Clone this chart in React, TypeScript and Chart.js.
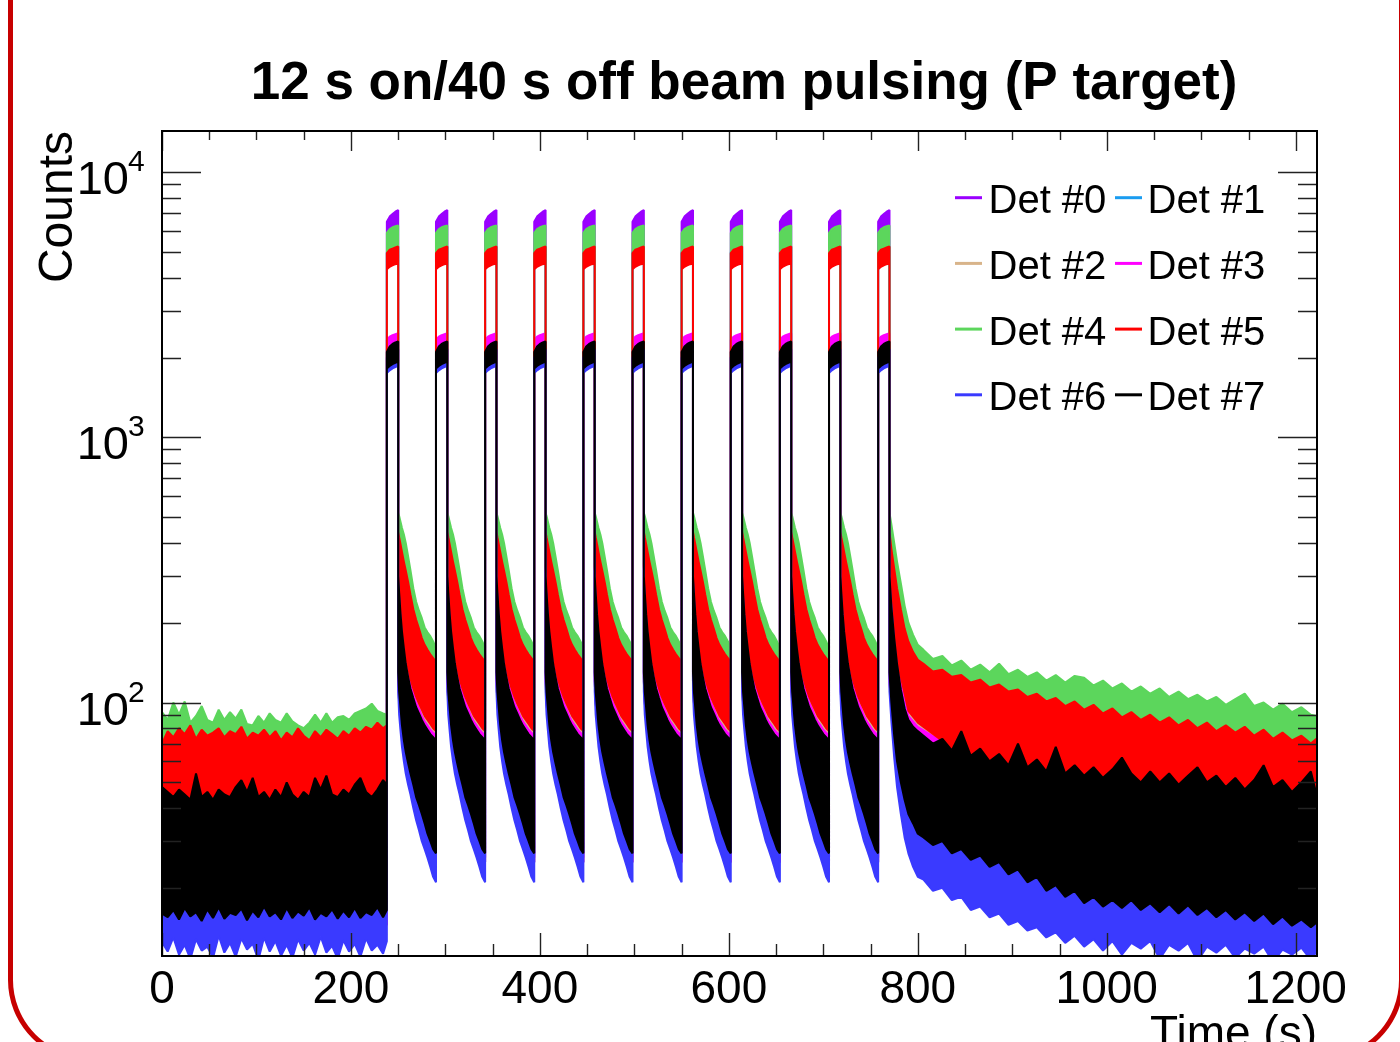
import React, { useEffect, useRef } from 'react';
import { Chart, registerables } from 'chart.js';

Chart.register(...registerables);

// ---------- labels / styling data ----------
const TITLE = '12 s on/40 s off beam pulsing (P target)';
const X_TITLE = 'Time (s)';
const Y_TITLE = 'Counts';
const DETECTORS = ['Det #0', 'Det #1', 'Det #2', 'Det #3', 'Det #4', 'Det #5', 'Det #6', 'Det #7'];
const COLORS = ['#9a00ff', '#1a9cf0', '#d8b48a', '#ff00ff', '#5cd65c', '#ff0000', '#3a3aff', '#000000'];
const X_TICK_LABELS = ['0', '200', '400', '600', '800', '1000', '1200'];
const Y_DECADES = [2, 3, 4];
const X_MIN = 0;
const X_MAX = 1222.5;
const Y_MIN = 11.07;
const Y_MAX = 14300;

// ---------- time grids (s) ----------
const PULSE_STARTS = [238, 290, 342, 394, 446, 498, 550, 602, 654, 706, 758];
const PULSE_LEN = 12;
const PULSE_DT = [0, 3, 6, 9, 12];
const GAP_DT = [0, 1, 2.5, 4, 6, 8, 10.5, 13, 16, 19, 22, 25, 28, 31, 34, 37, 40];
const BASE_T = [0, 6, 12, 18, 24, 30, 36, 42, 48, 54, 60, 66, 72, 78, 84, 90, 96, 102, 108, 114, 120, 126, 132, 138, 144, 150, 156, 162, 168, 174, 180, 186, 192, 198, 204, 210, 216, 222, 228, 234, 238];
const BASE_T_SHORT = [0, 120, 238];
const TAIL_T = [770, 772, 775, 778, 782, 786, 790, 795, 800, 806, 816, 826, 836, 846, 856, 866, 876, 886, 896, 906, 916, 926, 936, 946, 956, 966, 976, 986, 996, 1006, 1016, 1026, 1036, 1046, 1056, 1066, 1076, 1086, 1096, 1106, 1116, 1126, 1136, 1146, 1156, 1166, 1176, 1186, 1196, 1206, 1216, 1222];
const TAIL_T_SHORT = [770, 775, 780, 790, 800, 850, 950, 1100, 1222];

// ---------- counts: band edges (upper / lower) ----------
// beam-off baseline (0 - 238 s)
const G_HI_BASE = [92, 86, 100, 90, 101, 84, 89, 97, 86, 84, 94, 86, 92, 87, 94, 83, 82, 89, 84, 91, 86, 84, 91, 85, 82, 80, 84, 90, 84, 91, 84, 88, 89, 86, 91, 93, 95, 99, 93, 91, 90];
const R_HI_BASE = [70, 78, 74, 80, 76, 82, 73, 79, 75, 77, 80, 74, 78, 76, 81, 73, 77, 75, 79, 74, 78, 72, 77, 74, 80, 75, 72, 78, 74, 79, 76, 73, 78, 75, 80, 77, 81, 79, 84, 80, 82];
const K_HI_BASE = [48, 46, 44, 47, 45, 43, 54, 44, 46, 43, 47, 45, 44, 48, 51, 46, 52, 44, 46, 43, 47, 44, 50, 45, 43, 46, 44, 52, 47, 53, 45, 44, 47, 45, 49, 52, 46, 44, 47, 51, 49];
const K_LO_BASE = [16, 15.5, 16.5, 15.2, 16.8, 15.6, 16.2, 15, 16.6, 15.4, 16.9, 15.3, 16.1, 15.8, 16.7, 15.1, 16.4, 15.5, 17, 15.6, 16.2, 15.2, 16.8, 15.4, 16.3, 15.7, 16.9, 15.2, 16.1, 15.6, 16.6, 15.3, 16.4, 15.5, 16.8, 15.4, 16.2, 15.8, 16.9, 15.5, 16.5];
const B_LO_BASE = [12.5, 11.5, 13, 11.2, 12.2, 10.8, 12.8, 11.6, 12, 10.9, 13.2, 11.4, 12.4, 11, 12.9, 11.7, 12.3, 10.7, 13, 11.5, 12.6, 11.1, 12.2, 10.9, 12.8, 11.6, 12.4, 11.2, 13.1, 11.4, 12.1, 10.8, 12.7, 11.5, 12.3, 11, 12.9, 11.6, 12.2, 11.3, 12.6];

const BASE_HI = [
  [40, 41, 41],
  [40, 41, 41],
  [39, 40, 40],
  [38, 39, 39],
  G_HI_BASE,
  R_HI_BASE,
  [38, 38, 38],
  K_HI_BASE,
];
const BASE_LO = [
  [16, 16, 16],
  [16, 16, 16],
  [16, 16, 16],
  [14.5, 14.5, 14.5],
  [45, 45, 45],
  [38, 38, 38],
  B_LO_BASE,
  K_LO_BASE,
];

// beam-on plateau (12 s)
const PULSE_HI = [
  [6500, 6800, 6950, 7100, 7200],
  [5000, 5100, 5150, 5200, 5250],
  [2150, 2200, 2230, 2260, 2280],
  [2330, 2400, 2430, 2450, 2470],
  [5900, 6100, 6200, 6250, 6300],
  [4950, 5100, 5150, 5200, 5250],
  [2000, 2050, 2100, 2120, 2150],
  [2100, 2200, 2250, 2280, 2300],
];
const PULSE_LO = [
  [5600, 5700, 5800, 5900, 6000],
  [4500, 4600, 4650, 4700, 4700],
  [1900, 1930, 1950, 1970, 1980],
  [2000, 2050, 2080, 2100, 2120],
  [4900, 5000, 5050, 5100, 5100],
  [4300, 4400, 4450, 4500, 4520],
  [1750, 1790, 1820, 1840, 1860],
  [1820, 1860, 1890, 1910, 1930],
];

// decay between pulses (40 s)
const GAP_HI = [
  [285, 247, 204, 176, 152, 133, 119, 107, 99, 91, 86, 82, 78, 75, 72, 70, 68],
  [330, 286, 237, 204, 176, 154, 138, 124, 114, 106, 100, 95, 90, 87, 84, 81, 79],
  [321, 278, 230, 198, 171, 150, 134, 121, 111, 103, 97, 92, 88, 85, 81, 79, 77],
  [312, 270, 224, 192, 166, 146, 130, 118, 108, 100, 95, 89, 85, 82, 79, 77, 75],
  [520, 505, 480, 455, 430, 400, 356, 315, 270, 240, 222, 208, 192, 184, 178, 170, 160],
  [440, 420, 395, 370, 340, 315, 285, 255, 225, 205, 190, 175, 165, 158, 152, 147, 142],
  [288, 250, 206, 178, 154, 134, 120, 108, 100, 92, 87, 83, 79, 76, 73, 71, 69],
  [300, 260, 215, 185, 160, 140, 125, 113, 104, 96, 91, 86, 82, 79, 76, 74, 72],
];
const GAP_LO = [
  [125, 105, 90, 78, 69, 62, 56, 51, 46, 42, 39, 36, 33, 31, 29, 27, 26],
  [120, 100, 86, 75, 66, 60, 54, 50, 45, 41, 38, 35, 32, 30, 28, 26, 25],
  [120, 100, 86, 75, 66, 60, 54, 50, 45, 41, 38, 35, 32, 30, 28, 26, 25],
  [120, 100, 86, 75, 66, 60, 54, 50, 45, 41, 38, 35, 32, 30, 28, 26, 25],
  [332, 289, 239, 206, 177, 155, 139, 125, 115, 107, 101, 96, 91, 88, 85, 82, 80],
  [326, 283, 234, 202, 174, 152, 136, 123, 113, 105, 99, 94, 89, 86, 83, 80, 78],
  [110, 90, 78, 68, 60, 54, 49, 45, 40, 36, 33, 30, 28, 26, 24, 22, 21],
  [130, 110, 95, 82, 72, 65, 59, 54, 49, 44, 41, 38, 35, 32, 30, 28, 27],
];

// long decay after the last pulse (770 - 1222 s)
const G_HI_TAIL = [520, 470, 400, 340, 282, 232, 200, 180, 165, 158, 146, 150, 138, 144, 133, 139, 130, 140, 128, 133, 125, 130, 121, 127, 119, 126, 124, 116, 121, 113, 118, 110, 115, 108, 113, 105, 110, 103, 107, 101, 105, 98, 103, 108, 97, 100, 94, 99, 92, 96, 90, 89];
const R_HI_TAIL = [440, 380, 320, 270, 225, 190, 170, 155, 145, 140, 131, 133, 125, 127, 119, 122, 114, 117, 110, 112, 105, 108, 101, 104, 97, 101, 94, 98, 91, 95, 88, 92, 86, 90, 84, 88, 82, 86, 80, 84, 78, 82, 77, 81, 75, 79, 73, 77, 72, 75, 70, 73];
const K_HI_TAIL = [300, 230, 175, 140, 112, 95, 86, 81, 78, 75, 70, 73, 66, 78, 63, 67, 60, 64, 58, 70, 57, 61, 55, 68, 54, 58, 53, 57, 52, 56, 62, 54, 50, 55, 50, 54, 49, 53, 57, 50, 53, 48, 52, 47, 51, 58, 48, 51, 46, 50, 55, 45];
const K_LO_TAIL = [130, 100, 75, 60, 50, 43, 38, 35, 32, 31, 29, 30, 27, 28, 25.5, 26.5, 24, 25, 22.5, 23.5, 21, 22, 19.5, 20.5, 18.5, 19.5, 17.5, 18.5, 17, 18, 16.8, 18, 16.5, 17.5, 16.2, 17.4, 16, 17.2, 15.8, 16.8, 15.5, 16.5, 15.2, 16.2, 15, 16, 14.6, 15.6, 14.4, 15.2, 14.2, 14.8];
const B_LO_TAIL = [110, 85, 62, 48, 38, 31, 27, 24, 22, 21.5, 19.5, 20, 18, 18.5, 16.5, 17, 15.5, 16, 14.5, 15, 13.8, 14.2, 13, 13.6, 12.4, 13.2, 12, 12.8, 11.6, 12.6, 11.2, 12.4, 11.8, 12.6, 10.8, 12.2, 11.6, 12.4, 10.6, 12, 11.4, 12.2, 10.9, 11.8, 11.3, 12, 10.5, 11.7, 11.2, 11.9, 10.7, 11.5];

const TAIL_HI = [
  [285, 165, 118, 82, 74, 60, 52, 47, 42],
  [332, 196, 140, 96, 87, 66, 50, 44, 40],
  [322, 188, 134, 92, 83, 64, 49, 43, 39],
  [312, 182, 130, 89, 81, 63, 48, 42, 38],
  G_HI_TAIL,
  R_HI_TAIL,
  [285, 168, 120, 82, 74, 60, 52, 46, 42],
  K_HI_TAIL,
];
const TAIL_LO = [
  [125, 72, 55, 36, 30, 25, 19, 16, 14.5],
  [120, 70, 50, 33, 28, 24, 18, 15.5, 14],
  [120, 70, 50, 33, 28, 24, 18, 15.5, 14],
  [118, 68, 49, 32, 27, 23, 17.5, 15, 13.5],
  [333, 194, 138, 95, 86, 64, 50, 43, 39],
  [326, 190, 135, 93, 84, 62, 48, 42, 38],
  B_LO_TAIL,
  K_LO_TAIL,
];

// ---------- helpers ----------
type Pt = { x: number; y: number };

function gridFor(values: number[], full: number[], short: number[]): number[] {
  if (values.length === full.length) return full;
  if (values.length === short.length) return short;
  throw new Error('grid length mismatch ' + values.length);
}

function pushPts(arr: Pt[], ts: number[], vs: number[], offset: number) {
  for (let i = 0; i < ts.length; i++) arr.push({ x: offset + ts[i], y: vs[i] });
}

// closed band (upper edge forward, lower edge backward) for one detector
function buildBand(d: number): Pt[] {
  const hi: Pt[] = [];
  const lo: Pt[] = [];
  pushPts(hi, gridFor(BASE_HI[d], BASE_T, BASE_T_SHORT), BASE_HI[d], 0);
  pushPts(lo, gridFor(BASE_LO[d], BASE_T, BASE_T_SHORT), BASE_LO[d], 0);
  PULSE_STARTS.forEach((t0, k) => {
    pushPts(hi, PULSE_DT, PULSE_HI[d], t0);
    pushPts(lo, PULSE_DT, PULSE_LO[d], t0);
    if (k < PULSE_STARTS.length - 1) {
      pushPts(hi, GAP_DT, GAP_HI[d], t0 + PULSE_LEN);
      pushPts(lo, GAP_DT, GAP_LO[d], t0 + PULSE_LEN);
    }
  });
  pushPts(hi, gridFor(TAIL_HI[d], TAIL_T, TAIL_T_SHORT), TAIL_HI[d], 0);
  pushPts(lo, gridFor(TAIL_LO[d], TAIL_T, TAIL_T_SHORT), TAIL_LO[d], 0);
  return hi.concat(lo.reverse());
}

const FONT = "'Liberation Sans', Arial, Helvetica, sans-serif";

const rootStylePlugin = {
  id: 'rootStyle',
  afterDatasetsDraw(chart: any) {
    const { ctx, chartArea: a, scales } = chart;
    const xs = scales.x;
    const ys = scales.y;
    ctx.save();

    // ticks (inside, all four sides)
    ctx.strokeStyle = '#222';
    ctx.lineWidth = 1.4;
    ctx.beginPath();
    for (let v = 0; v <= X_MAX; v += 50) {
      const px = Math.round(xs.getPixelForValue(v)) + 0.5;
      const major = v % 200 === 0;
      ctx.moveTo(px, a.bottom);
      ctx.lineTo(px, a.bottom - (major ? 23 : 12));
      ctx.moveTo(px, a.top);
      ctx.lineTo(px, a.top + (major ? 20 : 9));
    }
    for (let dec = 1; dec <= 4; dec++) {
      for (let m = 1; m <= 9; m++) {
        const v = m * Math.pow(10, dec);
        if (v < Y_MIN || v > Y_MAX) continue;
        const py = Math.round(ys.getPixelForValue(v)) + 0.5;
        const len = m === 1 ? 39 : 19;
        ctx.moveTo(a.left, py);
        ctx.lineTo(a.left + len, py);
        ctx.moveTo(a.right, py);
        ctx.lineTo(a.right - len, py);
      }
    }
    ctx.stroke();

    // frame
    ctx.strokeStyle = '#000';
    ctx.lineWidth = 2;
    ctx.strokeRect(a.left, a.top, a.right - a.left, a.bottom - a.top);

    ctx.fillStyle = '#000';
    ctx.textBaseline = 'alphabetic';

    // x tick labels
    ctx.font = `46px ${FONT}`;
    ctx.textAlign = 'center';
    X_TICK_LABELS.forEach((lab) => {
      ctx.fillText(lab, xs.getPixelForValue(Number(lab)), 1003);
    });

    // y tick labels 10^n
    Y_DECADES.forEach((dec) => {
      const py = ys.getPixelForValue(Math.pow(10, dec));
      ctx.font = `47px ${FONT}`;
      ctx.textAlign = 'right';
      ctx.fillText('10', 129, py + 22);
      ctx.font = `30px ${FONT}`;
      ctx.textAlign = 'left';
      ctx.fillText(String(dec), 128, py - 1);
    });

    // axis titles
    ctx.font = `46px ${FONT}`;
    ctx.textAlign = 'right';
    ctx.fillText(X_TITLE, a.right, 1048);

    ctx.save();
    ctx.translate(72, 131);
    ctx.rotate(-Math.PI / 2);
    ctx.font = `48px ${FONT}`;
    ctx.textAlign = 'right';
    ctx.fillText(Y_TITLE, 0, 0);
    ctx.restore();

    // title
    ctx.font = `bold 53px ${FONT}`;
    ctx.textAlign = 'center';
    ctx.fillText(TITLE, 744, 99);

    // legend (2 columns)
    DETECTORS.forEach((lab, i) => {
      const col = i % 2;
      const row = Math.floor(i / 2);
      const y = 197.7 + row * 65.7;
      const lx = col ? 1115 : 955;
      ctx.strokeStyle = COLORS[i];
      ctx.lineWidth = 3;
      ctx.beginPath();
      ctx.moveTo(lx, y);
      ctx.lineTo(lx + 27, y);
      ctx.stroke();
      ctx.fillStyle = '#000';
      ctx.font = `40px ${FONT}`;
      ctx.textAlign = 'left';
      ctx.fillText(lab, col ? 1147.5 : 988.5, y + 15.6);
    });

    ctx.restore();
  },
};

export default function App() {
  const canvasRef = useRef<HTMLCanvasElement | null>(null);

  useEffect(() => {
    document.body.style.margin = '0';
    const canvas = canvasRef.current;
    if (!canvas) return;
    const datasets = DETECTORS.map((label, d) => ({
      label,
      data: buildBand(d),
      borderColor: COLORS[d],
      backgroundColor: COLORS[d],
      borderWidth: 2,
      borderJoinStyle: 'bevel',
      pointRadius: 0,
      pointHoverRadius: 0,
      fill: 'shape',
      tension: 0,
      order: 7 - d,
    }));
    const chart = new Chart(canvas, {
      type: 'line',
      data: { datasets } as any,
      options: {
        animation: false,
        responsive: false,
        devicePixelRatio: 1,
        events: [],
        layout: { padding: { left: 162, right: 83, top: 131, bottom: 86 } },
        plugins: { legend: { display: false }, tooltip: { enabled: false }, title: { display: false } },
        scales: {
          x: { type: 'linear', min: X_MIN, max: X_MAX, display: false },
          y: { type: 'logarithmic', min: Y_MIN, max: Y_MAX, display: false },
        },
      } as any,
      plugins: [rootStylePlugin],
    });
    return () => chart.destroy();
  }, []);

  return (
    <div style={{ position: 'fixed', left: 0, top: 0, width: 1400, height: 1042, overflow: 'hidden', background: '#fff' }}>
      <div
        style={{
          position: 'absolute',
          left: 8,
          top: -100,
          width: 1396,
          height: 1162,
          boxSizing: 'border-box',
          border: '5px solid #c70000',
          borderRadius: 82,
        }}
      />
      <canvas ref={canvasRef} width={1400} height={1042} style={{ position: 'absolute', left: 0, top: 0, width: 1400, height: 1042 }} />
    </div>
  );
}
